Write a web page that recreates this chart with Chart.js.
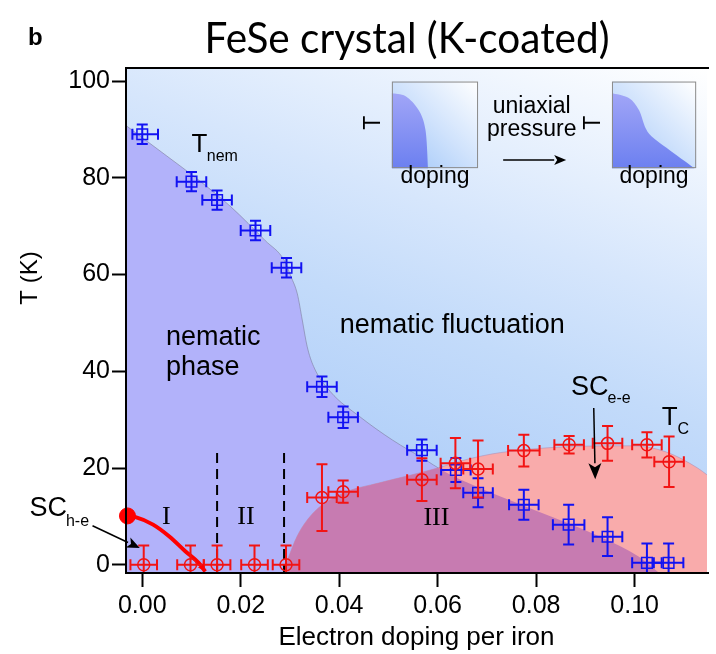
<!DOCTYPE html>
<html>
<head>
<meta charset="utf-8">
<script src="https://cdn.jsdelivr.net/npm/chart.js@4.4.1/dist/chart.umd.min.js"></script>
<style>
  html, body { margin: 0; padding: 0; background: #ffffff; }
  #wrap { width: 716px; height: 654px; }
</style>
</head>
<body>
<div id="wrap"><canvas id="chart" width="716" height="654"></canvas></div>
<script>
// ---- axis ticks ----
const xTicks = [0.00, 0.02, 0.04, 0.06, 0.08, 0.10];
const yTicks = [0, 20, 40, 60, 80, 100];

// ---- nematic transition T_nem (blue squares) ----
const nemDoping   = [0.0000, 0.0100, 0.0152, 0.0230, 0.0293, 0.0365, 0.0408, 0.0568, 0.0637, 0.0682, 0.0775, 0.0866, 0.0945, 0.1025, 0.1069];
const nemT        = [89.0, 79.2, 75.4, 69.1, 61.4, 36.8, 30.5, 23.7, 19.6, 14.9, 12.4, 8.3, 5.8, 0.4, 0.4];
const nemTErr     = [2.0, 2.0, 2.0, 2.0, 2.0, 2.1, 2.2, 2.2, 2.5, 3.0, 3.1, 4.1, 4.0, 4.0, 4.0];
const nemDopErrLo = [0.0020, 0.0030, 0.0030, 0.0030, 0.0030, 0.0030, 0.0030, 0.0030, 0.0030, 0.0030, 0.0030, 0.0032, 0.0030, 0.0030, 0.0030];
const nemDopErrHi = [0.0032, 0.0030, 0.0030, 0.0030, 0.0030, 0.0030, 0.0030, 0.0030, 0.0030, 0.0030, 0.0030, 0.0032, 0.0030, 0.0030, 0.0030];

// ---- superconducting Tc (red circles) ----
const scDoping = [0.0003, 0.0098, 0.0152, 0.0228, 0.0292, 0.0365, 0.0408, 0.0568, 0.0636, 0.0682, 0.0775, 0.0867, 0.0945, 0.1025, 0.1070];
const scT      = [0, 0, 0, 0, 0, 13.9, 15.1, 17.6, 21.0, 19.8, 23.6, 24.8, 25.1, 24.8, 21.3];
const scTErr   = [4, 4, 4, 4, 4, 6.9, 2.3, 4.4, 5.2, 5.9, 3.3, 1.8, 3.6, 2.6, 5.2];
const scDopErr = [0.0027, 0.0027, 0.0027, 0.0027, 0.0027, 0.0030, 0.0030, 0.0030, 0.0030, 0.0030, 0.0032, 0.0030, 0.0030, 0.0030, 0.0030];

// ---- phase boundaries ----
const nematicEdgeDoping = [-0.0033, 0.0050, 0.0115, 0.0180, 0.0250, 0.0288, 0.0302, 0.0315, 0.0325, 0.0335, 0.0348, 0.0382, 0.0442, 0.0508, 0.0575, 0.0608, 0.0660, 0.0795, 0.0930, 0.1008, 0.1050];
const nematicEdgeT      = [90.8, 84.5, 79.5, 74.0, 67.0, 63.0, 59.6, 56.0, 50.6, 45.1, 41.0, 35.8, 30.6, 25.8, 21.7, 19.6, 17.0, 11.4, 5.8, 1.7, -1.7];
const domeDoping = [0.0285, 0.0295, 0.0315, 0.0350, 0.0408, 0.0480, 0.0540, 0.0600, 0.0660, 0.0728, 0.0862, 0.0995, 0.1062, 0.1128, 0.1147];
const domeT      = [-1.7, 1.0, 6.0, 11.0, 14.8, 16.9, 18.4, 20.0, 21.8, 23.2, 24.4, 24.6, 23.4, 20.0, 18.6];

// ---- SC(h-e) line and its onset ----
const heDoping = [-0.0030, -0.0015, 0.0022, 0.0055, 0.0088, 0.0115, 0.0128];
const heT      = [10.1, 9.9, 8.3, 5.85, 2.75, 0.35, -1.4];
const heOnsetDoping = [-0.0030];
const heOnsetT      = [10.1];

// ---- boundaries between regions I / II / III ----
const regionDividers = [0.0152, 0.0288];
const dividerTopT = 23.1;

// ---- scale range ----
const X_MIN = -0.0033, X_MAX = 0.1147;
const Y_MIN = -1.7, Y_MAX = 102.7;

const pts = (xs, ys) => xs.map((x, i) => ({ x: x, y: ys[i] }));

const PURPLE = '#b2b2fa';
const PINK = '#f9abab';
const MAUVE = '#c77bb1';
const BLUE = '#1212f2';
const RED = '#f21414';
const SANS = '"Liberation Sans", Arial, sans-serif';
const SERIF = '"Liberation Serif", "Times New Roman", serif';

Chart.defaults.font.family = SANS;
Chart.defaults.color = '#000';

// ---- plugins ----
const backgroundPlugin = {
  id: 'phaseBackground',
  beforeDraw(chart) {
    const { ctx, chartArea: a } = chart;
    const L = 560;
    const g = ctx.createLinearGradient(a.right, a.top, a.right - 0.35 * L, a.top + 0.94 * L);
    g.addColorStop(0, '#ffffff');
    g.addColorStop(0.4, '#d6e6fc');
    g.addColorStop(0.6, '#c3dbfa');
    g.addColorStop(0.85, '#b2d0f9');
    g.addColorStop(1, '#aacbf8');
    ctx.save();
    ctx.fillStyle = g;
    ctx.fillRect(a.left, a.top, a.width, a.height);
    ctx.restore();
  }
};

function regionPath(ctx, chart, line, base) {
  if (line.updateControlPoints) line.updateControlPoints(chart.chartArea, 'x');
  const p = line.points;
  ctx.beginPath();
  ctx.moveTo(p[0].x, p[0].y);
  for (let i = 1; i < p.length; i++) {
    const a = p[i - 1], b = p[i];
    if (a.cp2x !== undefined && b.cp1x !== undefined) {
      ctx.bezierCurveTo(a.cp2x, a.cp2y, b.cp1x, b.cp1y, b.x, b.y);
    } else {
      ctx.lineTo(b.x, b.y);
    }
  }
  ctx.lineTo(p[p.length - 1].x, base);
  ctx.lineTo(p[0].x, base);
  ctx.closePath();
}

// region under both the nematic edge and the SC dome
const overlapPlugin = {
  id: 'overlap',
  afterDatasetDraw(chart, args) {
    if (args.index !== 1) return;
    const { ctx, chartArea: a } = chart;
    const nem = chart.getDatasetMeta(0).dataset;
    const dome = chart.getDatasetMeta(1).dataset;
    ctx.save();
    ctx.beginPath();
    ctx.rect(a.left, a.top, a.width, a.height);
    ctx.clip();
    regionPath(ctx, chart, nem, a.bottom);
    ctx.clip();
    regionPath(ctx, chart, dome, a.bottom);
    ctx.fillStyle = MAUVE;
    ctx.fill();
    ctx.restore();
  }
};

const errorBarPlugin = {
  id: 'errorBars',
  beforeDatasetDraw(chart, args) {
    const ds = chart.data.datasets[args.index];
    if (!ds.errorBars) return;
    const { ctx, chartArea: a, scales: { x, y } } = chart;
    const e = ds.errorBars;
    const cap = 5.5;
    ctx.save();
    ctx.beginPath();
    ctx.rect(a.left, a.top, a.width, a.height);
    ctx.clip();
    ctx.strokeStyle = ds.borderColor;
    ctx.lineWidth = 2;
    ds.data.forEach((p, i) => {
      const px = x.getPixelForValue(p.x), py = y.getPixelForValue(p.y);
      const x0 = x.getPixelForValue(p.x - e.xLo[i]), x1 = x.getPixelForValue(p.x + e.xHi[i]);
      const y0 = y.getPixelForValue(p.y - e.y[i]), y1 = y.getPixelForValue(p.y + e.y[i]);
      ctx.beginPath();
      ctx.moveTo(x0, py); ctx.lineTo(x1, py);
      ctx.moveTo(x0, py - cap); ctx.lineTo(x0, py + cap);
      ctx.moveTo(x1, py - cap); ctx.lineTo(x1, py + cap);
      ctx.moveTo(px, y0); ctx.lineTo(px, y1);
      ctx.moveTo(px - cap, y0); ctx.lineTo(px + cap, y0);
      ctx.moveTo(px - cap, y1); ctx.lineTo(px + cap, y1);
      ctx.stroke();
    });
    ctx.restore();
  }
};

function arrow(ctx, x0, y0, x1, y1, len, halfW, color, lw) {
  const ang = Math.atan2(y1 - y0, x1 - x0);
  const bx = x1 - len * Math.cos(ang), by = y1 - len * Math.sin(ang);
  ctx.save();
  ctx.strokeStyle = color;
  ctx.fillStyle = color;
  ctx.lineWidth = lw;
  ctx.beginPath();
  ctx.moveTo(x0, y0);
  ctx.lineTo(bx, by);
  ctx.stroke();
  ctx.beginPath();
  ctx.moveTo(x1, y1);
  ctx.lineTo(bx + halfW * Math.sin(ang), by - halfW * Math.cos(ang));
  ctx.lineTo(bx + 0.25 * len * Math.cos(ang), by + 0.25 * len * Math.sin(ang));
  ctx.lineTo(bx - halfW * Math.sin(ang), by + halfW * Math.cos(ang));
  ctx.closePath();
  ctx.fill();
  ctx.restore();
}

// text labels placed in data coordinates (left edge, baseline)
const notes = [
  { t: 'nematic fluctuation', d: 0.0401, T: 47.9, size: 27 },
  { t: 'nematic', d: 0.0048, T: 45.5, size: 27 },
  { t: 'phase', d: 0.0048, T: 39.3, size: 27 },
  { t: 'T', d: 0.0100, T: 85.3, size: 26 },
  { t: 'nem', d: 0.0131, T: 83.5, size: 16 },
  { t: 'SC', d: 0.0871, T: 35.1, size: 27 },
  { t: 'e-e', d: 0.0945, T: 33.5, size: 16 },
  { t: 'T', d: 0.1055, T: 28.9, size: 26 },
  { t: 'C', d: 0.1087, T: 27.1, size: 16 },
  { t: 'SC', d: -0.0229, T: 10.0, size: 27 },
  { t: 'h-e', d: -0.0155, T: 8.1, size: 16 },
  { t: 'I', d: 0.0040, T: 8.5, size: 26, serif: true },
  { t: 'II', d: 0.0193, T: 8.5, size: 26, serif: true },
  { t: 'III', d: 0.0571, T: 8.3, size: 26, serif: true }
];

// pointer arrows (data coordinates, tail -> tip)
const pointers = [
  { from: [0.0917, 32.4], to: [0.0920, 17.7], len: 16, halfW: 6.5 },
  { from: [-0.0101, 8.06], to: [-0.0005, 3.45], len: 13, halfW: 5.5 }
];

// schematic insets: outline of the nematic region as fractions of the box
const inset = {
  top: 99.9, bottom: 82.0,
  boxes: [
    { x0: 0.0507, x1: 0.0682, edge: [[0, 0.135], [0.16, 0.17], [0.31, 0.33], [0.39, 0.56], [0.42, 1.0]] },
    { x0: 0.0954, x1: 0.1125, edge: [[0, 0.135], [0.2, 0.19], [0.32, 0.33], [0.4, 0.54], [0.49, 0.65], [0.71, 0.81], [0.98, 1.0]] }
  ],
  tLabelOffset: 0.0038
};

function smoothThrough(ctx, p) {
  ctx.lineTo(p[0][0], p[0][1]);
  for (let i = 0; i < p.length - 1; i++) {
    const p0 = p[Math.max(i - 1, 0)], p1 = p[i], p2 = p[i + 1], p3 = p[Math.min(i + 2, p.length - 1)];
    ctx.bezierCurveTo(
      p1[0] + (p2[0] - p0[0]) / 6, p1[1] + (p2[1] - p0[1]) / 6,
      p2[0] - (p3[0] - p1[0]) / 6, p2[1] - (p3[1] - p1[1]) / 6,
      p2[0], p2[1]);
  }
}

function drawInsets(chart) {
  const { ctx, scales: { x, y } } = chart;
  const Y0 = y.getPixelForValue(inset.top), Y1 = y.getPixelForValue(inset.bottom);
  inset.boxes.forEach(b => {
    const X0 = x.getPixelForValue(b.x0), X1 = x.getPixelForValue(b.x1);
    const w = X1 - X0, h = Y1 - Y0;
    ctx.save();
    const g = ctx.createLinearGradient(X1, Y0, X0, Y1);
    g.addColorStop(0, '#ffffff');
    g.addColorStop(0.5, '#cfe2fc');
    g.addColorStop(1, '#9cc4f8');
    ctx.fillStyle = g;
    ctx.fillRect(X0, Y0, w, h);
    const edge = b.edge.map(q => [X0 + q[0] * w, Y0 + q[1] * h]);
    ctx.beginPath();
    ctx.moveTo(X0, Y1);
    smoothThrough(ctx, edge);
    ctx.closePath();
    const gb = ctx.createLinearGradient(X0, Y0, X0, Y1);
    gb.addColorStop(0, '#a9abf8');
    gb.addColorStop(1, '#6c80f0');
    ctx.fillStyle = gb;
    ctx.fill();
    ctx.strokeStyle = '#8a8a8a';
    ctx.lineWidth = 1;
    ctx.strokeRect(X0 + 0.5, Y0 + 0.5, w - 1, h - 1);
    // axis letters
    ctx.fillStyle = '#000';
    ctx.font = '23px ' + SANS;
    ctx.textAlign = 'center';
    ctx.textBaseline = 'middle';
    ctx.save();
    ctx.translate(x.getPixelForValue(b.x0 - inset.tLabelOffset), (Y0 + Y1) / 2 - 2);
    ctx.rotate(-Math.PI / 2);
    ctx.fillText('T', 0, 0);
    ctx.restore();
    ctx.font = '23px ' + SANS;
    ctx.textBaseline = 'alphabetic';
    ctx.fillText('doping', (X0 + X1) / 2, y.getPixelForValue(78.9));
    ctx.restore();
  });
  ctx.save();
  ctx.fillStyle = '#000';
  ctx.font = '23px ' + SANS;
  ctx.textAlign = 'center';
  ctx.textBaseline = 'alphabetic';
  ctx.fillText('uniaxial', x.getPixelForValue(0.0791), y.getPixelForValue(93.3));
  ctx.fillText('pressure', x.getPixelForValue(0.0791), y.getPixelForValue(88.6));
  ctx.restore();
  arrow(ctx, x.getPixelForValue(0.0733), y.getPixelForValue(83.7), x.getPixelForValue(0.0861), y.getPixelForValue(83.7), 12, 5, '#000', 1.5);
}

const annotationPlugin = {
  id: 'annotations',
  afterDatasetsDraw(chart) {
    const { ctx, chartArea: a, scales: { x, y } } = chart;
    // frame
    ctx.save();
    ctx.strokeStyle = '#000';
    ctx.lineWidth = 2;
    ctx.beginPath();
    ctx.moveTo(a.right + 2, a.top);
    ctx.lineTo(a.left, a.top);
    ctx.lineTo(a.left, a.bottom);
    ctx.lineTo(a.right + 2, a.bottom);
    ctx.stroke();
    ctx.restore();

    // arrowhead at the end of the SC(h-e) line
    const n = heDoping.length;
    arrow(ctx,
      x.getPixelForValue(heDoping[n - 2]), y.getPixelForValue(heT[n - 2]),
      x.getPixelForValue(heDoping[n - 1]), y.getPixelForValue(heT[n - 1]),
      8, 3.5, '#ff0000', 0.1);

    // labels
    ctx.save();
    ctx.fillStyle = '#000';
    ctx.textAlign = 'left';
    ctx.textBaseline = 'alphabetic';
    notes.forEach(nt => {
      ctx.font = nt.size + 'px ' + (nt.serif ? SERIF : SANS);
      ctx.fillText(nt.t, x.getPixelForValue(nt.d), y.getPixelForValue(nt.T));
    });
    ctx.restore();

    pointers.forEach(p => arrow(ctx,
      x.getPixelForValue(p.from[0]), y.getPixelForValue(p.from[1]),
      x.getPixelForValue(p.to[0]), y.getPixelForValue(p.to[1]),
      p.len, p.halfW, '#000', 1.5));

    drawInsets(chart);
  },
  afterDraw(chart) {
    const { ctx, chartArea: a } = chart;
    ctx.save();
    ctx.fillStyle = '#000';
    // panel letter
    ctx.font = 'bold 24px ' + SANS;
    ctx.textAlign = 'left';
    ctx.textBaseline = 'alphabetic';
    ctx.fillText('b', 28, 45);
    // title, set in a condensed humanist face
    const title = 'FeSe crystal (K-coated)';
    ctx.font = '42px Lato, "Open Sans", sans-serif';
    const w = ctx.measureText(title).width;
    const sx = Math.min(1, 405 / w);
    ctx.save();
    ctx.translate(407, 53);
    ctx.scale(sx, 1);
    ctx.textAlign = 'center';
    ctx.fillText(title, 0, 0);
    ctx.restore();
    // y-axis title
    ctx.font = '24px ' + SANS;
    ctx.translate(30, a.top + 210);
    ctx.rotate(-Math.PI / 2);
    ctx.textAlign = 'center';
    ctx.textBaseline = 'middle';
    ctx.fillText('T (K)', 0, 0);
    ctx.restore();
  }
};

const divider = (d, order) => ({
  data: [{ x: d, y: dividerTopT }, { x: d, y: Y_MIN }],
  order: order,
  borderColor: '#000',
  borderWidth: 2,
  borderDash: [10, 6],
  pointRadius: 0,
  fill: false
});

// higher "order" values are painted first (underneath)
new Chart(document.getElementById('chart'), {
  type: 'line',
  data: {
    datasets: [
      { // 0: nematic phase
        data: pts(nematicEdgeDoping, nematicEdgeT),
        order: 9,
        fill: 'start',
        backgroundColor: PURPLE,
        borderColor: 'rgba(120,120,150,0.55)',
        borderWidth: 1,
        pointRadius: 0,
        cubicInterpolationMode: 'monotone'
      },
      { // 1: superconducting dome
        data: pts(domeDoping, domeT),
        order: 8,
        fill: 'start',
        backgroundColor: PINK,
        borderColor: 'rgba(160,140,185,0.5)',
        borderWidth: 1,
        pointRadius: 0,
        cubicInterpolationMode: 'monotone'
      },
      divider(regionDividers[0], 7), // 2
      divider(regionDividers[1], 6), // 3
      { // 4: SC(h-e) line
        data: pts(heDoping, heT),
        order: 5,
        borderColor: '#ff0000',
        borderWidth: 4,
        pointRadius: 0,
        fill: false,
        cubicInterpolationMode: 'monotone'
      },
      { // 5: SC(h-e) onset
        data: pts(heOnsetDoping, heOnsetT),
        order: 4,
        showLine: false,
        pointRadius: 8,
        pointBackgroundColor: '#ff0000',
        pointBorderColor: '#ff0000',
        pointBorderWidth: 1,
        clip: false
      },
      { // 6: T_nem
        data: pts(nemDoping, nemT),
        order: 3,
        showLine: false,
        borderColor: BLUE,
        pointStyle: 'rect',
        pointRadius: 7.5,
        pointBorderWidth: 1.5,
        pointBorderColor: BLUE,
        pointBackgroundColor: 'rgba(0,0,0,0)',
        errorBars: { xLo: nemDopErrLo, xHi: nemDopErrHi, y: nemTErr }
      },
      { // 7: Tc
        data: pts(scDoping, scT),
        order: 2,
        showLine: false,
        borderColor: RED,
        pointStyle: 'circle',
        pointRadius: 6,
        pointBorderWidth: 1.5,
        pointBorderColor: RED,
        pointBackgroundColor: 'rgba(0,0,0,0)',
        errorBars: { xLo: scDopErr, xHi: scDopErr, y: scTErr }
      }
    ]
  },
  options: {
    responsive: false,
    animation: false,
    events: [],
    layout: { padding: { top: 68, left: 0, right: 0, bottom: 0 } },
    plugins: {
      legend: { display: false },
      tooltip: { enabled: false },
      title: { display: false }
    },
    scales: {
      x: {
        type: 'linear',
        min: X_MIN,
        max: X_MAX,
        afterBuildTicks: s => { s.ticks = xTicks.map(v => ({ value: v })); },
        afterFit: s => { s.height = 81; },
        ticks: {
          font: { size: 25 },
          color: '#000',
          padding: 4,
          maxRotation: 0,
          autoSkip: false,
          callback: v => Number(v).toFixed(2)
        },
        grid: { display: true, drawOnChartArea: false, drawTicks: true, tickLength: 14, tickWidth: 2, tickColor: '#000' },
        border: { display: true, color: '#000', width: 2 },
        title: {
          display: true,
          text: 'Electron doping per iron',
          font: { size: 26 },
          color: '#000',
          padding: { top: 0, bottom: 1 }
        }
      },
      y: {
        type: 'linear',
        min: Y_MIN,
        max: Y_MAX,
        afterBuildTicks: s => { s.ticks = yTicks.map(v => ({ value: v })); },
        afterFit: s => { s.width = 126; },
        ticks: {
          font: { size: 25 },
          color: '#000',
          padding: 2,
          callback: v => String(v)
        },
        grid: { display: true, drawOnChartArea: false, drawTicks: true, tickLength: 14, tickWidth: 2, tickColor: '#000' },
        border: { display: true, color: '#000', width: 2 }
      }
    }
  },
  plugins: [backgroundPlugin, overlapPlugin, errorBarPlugin, annotationPlugin]
});
</script>
</body>
</html>
